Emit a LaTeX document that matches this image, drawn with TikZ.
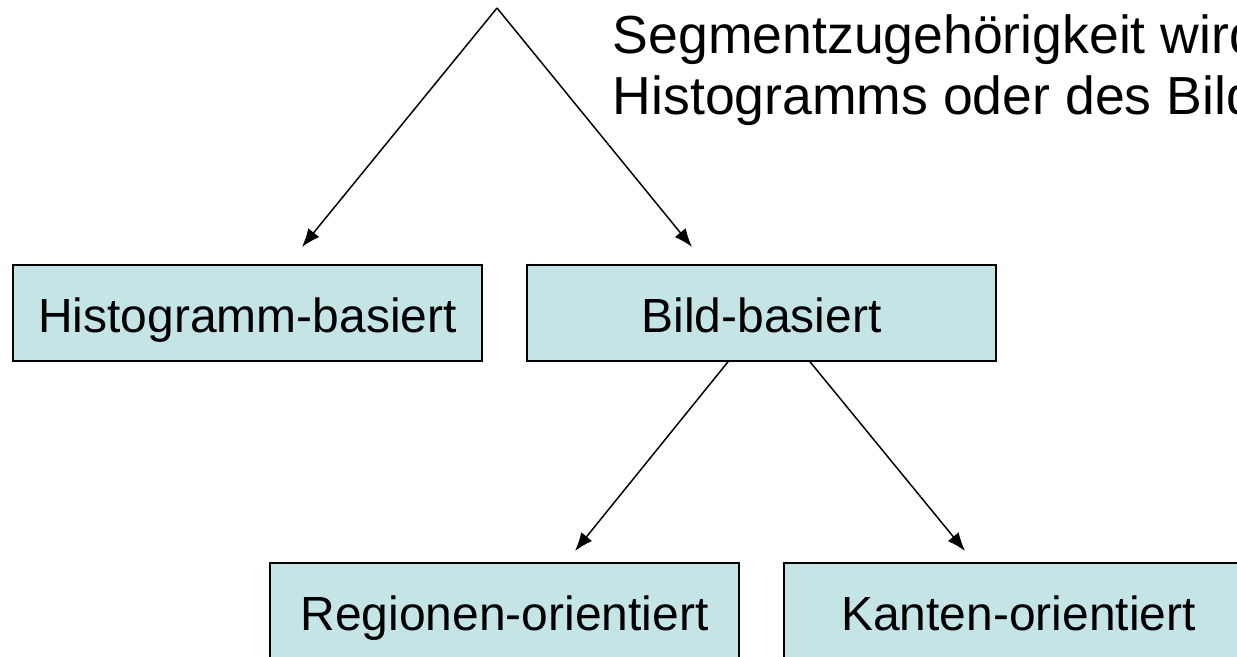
\documentclass[tikz,border=0pt]{standalone}
\usepackage{fontspec}
\setmainfont{Liberation Sans}
\usetikzlibrary{arrows.meta}
\definecolor{boxfill}{RGB}{196,228,230}
\tikzset{>={Latex[length=10.5pt,width=8pt]}}
\tikzset{
  kind/.style = {
    draw, line width=0.9pt, fill=boxfill,
    minimum width=9.38cm, minimum height=1.92cm,
    inner sep=0pt, text height=0.96cm, text depth=0.2cm,
    font=\fontsize{27.3}{33}\selectfont
  },
  note/.style = {anchor=base west, inner sep=0pt, font=\fontsize{30.5}{36}\selectfont}
}

\begin{document}
\begin{tikzpicture}[x=0.02cm,y=-0.02cm,line width=0.85pt]
  \useasboundingbox (0,0) rectangle (1237,656);
  \clip (0,0) rectangle (1237,656);
  \node[kind] (hist)   at (247.5,313) {Histogramm-basiert};
  \node[kind] (bild)   at (761.5,313) {Bild-basiert};
  \node[kind] (region) at (504.5,611) {Regionen-orientiert};
  \node[kind] (kanten) at (1018.5,611) {Kanten-orientiert};
  \node[note] (line1) at (612,53)  {Segmentzugehörigkeit wird};
  \node[note] (line2) at (612,114) {Histogramms oder des Bild};
  %
  \coordinate (apex) at (497,8);
  \coordinate (tiph) at (302,247);
  \coordinate (tipb) at (692,247);
  \draw[->] (apex) -- (tiph);
  \draw[->] (apex) -- (tipb);
  %
  \coordinate (outr) at ([xshift=-0.67cm]bild.south);
  \coordinate (outk) at ([xshift=0.97cm]bild.south);
  \coordinate (tipr) at (575,551);
  \coordinate (tipk) at (965,551);
  \draw[->] (outr) -- (tipr);
  \draw[->] (outk) -- (tipk);
\end{tikzpicture}
\end{document}
